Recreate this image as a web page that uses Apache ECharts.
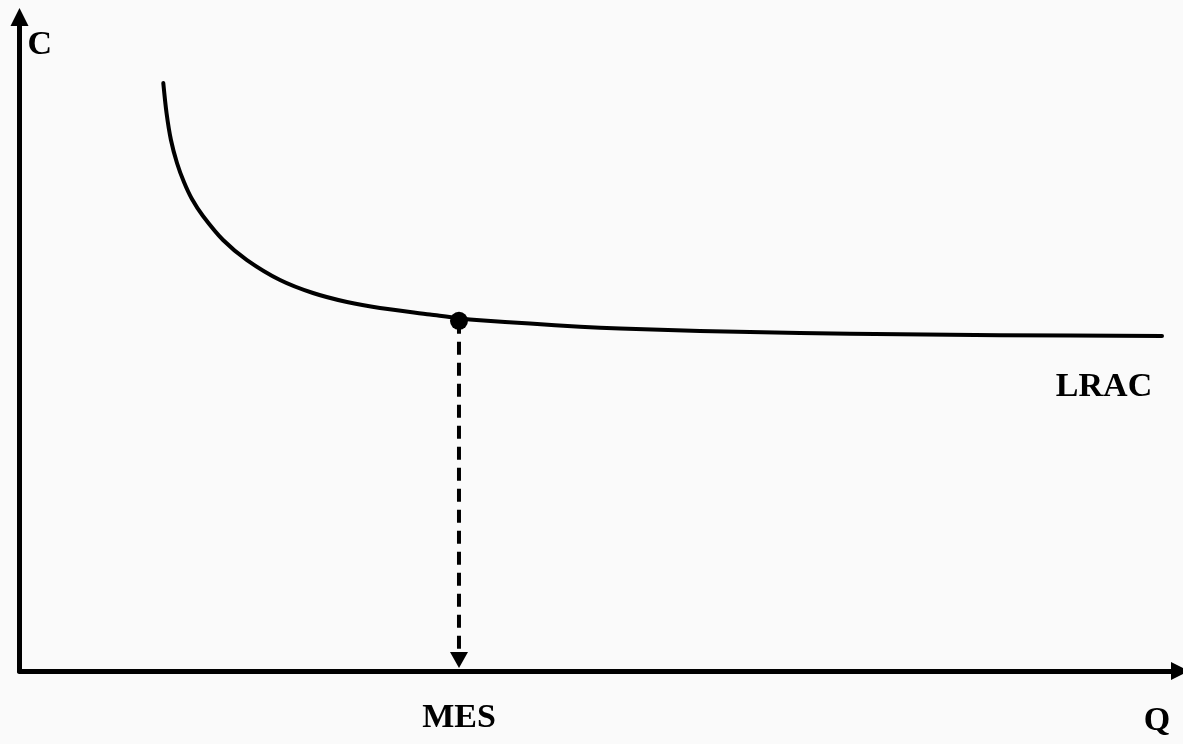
<!DOCTYPE html>
<html>
<head>
<meta charset="utf-8">
<script src="https://cdn.jsdelivr.net/npm/echarts@6/dist/echarts.min.js"></script>
<style>
html,body{margin:0;padding:0;background:#fafafa;}
#chart{width:1183px;height:744px;}
</style>
</head>
<body>
<div id="chart"></div>
<script>
// Long-run average cost curve (arbitrary units)
const lracQ = [12.39, 12.67, 13.05, 13.57, 14.17, 14.86, 15.81, 17.54, 19.6, 22.45, 25.29, 28.22, 31.06, 35.37, 37.87, 39.68, 43.99, 48.3, 51.75, 58.64, 67.25, 75.87, 84.49, 98.45];
const lracC = [89.91, 85.32, 81.19, 77.68, 74.77, 72.17, 69.57, 65.9, 62.84, 59.79, 57.8, 56.42, 55.5, 54.51, 53.93, 53.62, 53.13, 52.65, 52.37, 52.0, 51.68, 51.48, 51.35, 51.22];
const mesQ = 37.87;
const mesC = 53.55;
const dropEnd = 2.9;   // where the dashed drop line meets its arrow head
const arrowC = 1.7;    // arrow head position
const axisNames = { x: 'Q', y: 'C' };
const curveName = 'LRAC';
const mesName = 'MES';

const font = "'Liberation Serif','Times New Roman',serif";
const txt = { fontFamily: font, fontWeight: 'bold', fontSize: 34, color: '#000', opacity: 1 };
const chart = echarts.init(document.getElementById('chart'));
chart.setOption({
  backgroundColor: '#fafafa',
  animation: false,
  grid: { left: 19.5, right: 3, top: 17, bottom: 73 },
  xAxis: {
    type: 'value', min: 0, max: 100,
    name: axisNames.x, nameLocation: 'end', nameGap: -23,
    nameTextStyle: Object.assign({}, txt, { align: 'center', verticalAlign: 'top', padding: [33, 0, 0, 0] }),
    axisLine: { show: true, symbol: ['none', 'triangle'], symbolSize: [18, 18],
      lineStyle: { color: '#000', width: 5 } },
    axisTick: { show: false }, axisLabel: { show: false }, splitLine: { show: false }
  },
  yAxis: {
    type: 'value', min: 0, max: 100,
    name: axisNames.y, nameLocation: 'end', nameGap: -11,
    nameTextStyle: Object.assign({}, txt, { align: 'left', verticalAlign: 'top', padding: [0, 0, 0, 8] }),
    axisLine: { show: true, symbol: ['none', 'triangle'], symbolSize: [18, 18],
      lineStyle: { color: '#000', width: 5 } },
    axisTick: { show: false }, axisLabel: { show: false }, splitLine: { show: false }
  },
  series: [
    {
      name: curveName, type: 'line', smooth: 0.3, showSymbol: false,
      data: lracQ.map((q, i) => [q, lracC[i]]),
      lineStyle: { color: '#000', width: 4, cap: 'round', join: 'round' }
    },
    {
      type: 'line', showSymbol: false,
      data: [[mesQ, mesC], [mesQ, dropEnd]],
      lineStyle: { color: '#000', width: 4, type: [13, 8] }
    },
    {
      type: 'scatter', symbol: 'triangle', symbolRotate: 180, symbolSize: [18, 16],
      itemStyle: { color: '#000', opacity: 1 },
      data: [[mesQ, arrowC]],
      label: Object.assign({ show: true, formatter: mesName, position: 'bottom', distance: 33 }, txt)
    },
    {
      type: 'scatter', symbol: 'circle', symbolSize: 18,
      itemStyle: { color: '#000', opacity: 1 },
      data: [[mesQ, mesC]], z: 5
    },
    {
      type: 'scatter', symbolSize: 1,
      itemStyle: { color: 'transparent', opacity: 1 },
      data: [[lracQ[lracQ.length - 1], lracC[lracC.length - 1]]],
      label: Object.assign({ show: true, formatter: curveName, position: 'bottom', distance: 5, offset: [-58, 29] }, txt)
    }
  ]
});
</script>
</body>
</html>
